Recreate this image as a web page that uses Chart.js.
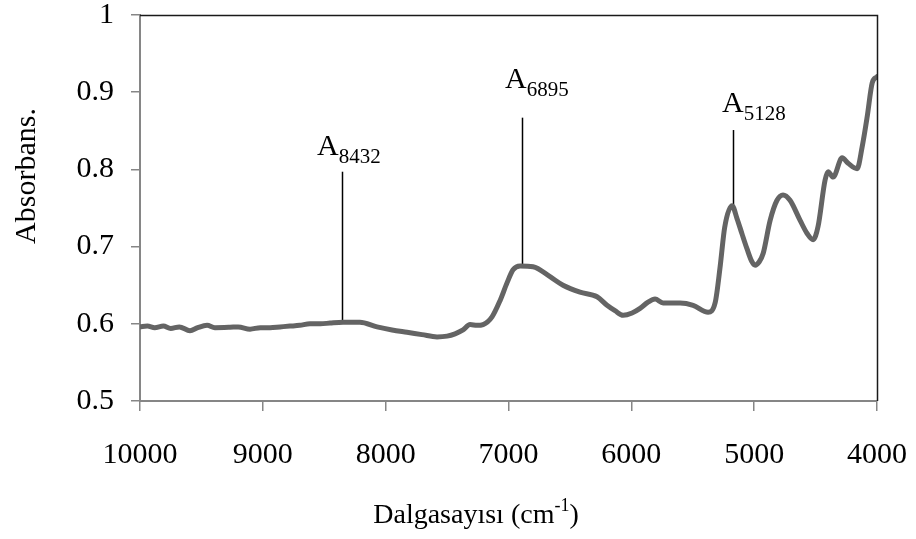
<!DOCTYPE html>
<html><head><meta charset="utf-8">
<script src="https://cdn.jsdelivr.net/npm/chart.js@4/dist/chart.umd.min.js"></script>
<style>html,body{margin:0;padding:0;background:#fff;}#wrap{width:916px;height:539px;}</style>
</head><body><div id="wrap"><canvas id="c" width="916" height="539"></canvas></div>
<script>
// ---- data ----
const wavenumbers = [10000,9940,9880,9810,9750,9680,9593,9530,9454,9390,9267,9200,9104,9020,8941,8860,8779,8700,8616,8530,8453,8347,8210,8070,7948,7826,7704,7582,7500,7435,7370,7313,7256,7207,7134,7069,7012,6963,6906,6800,6662,6556,6418,6279,6198,6133,6067,5994,5929,5864,5807,5742,5603,5497,5375,5318,5277,5240,5180,5139,5100,5058,5020,4992,4960,4927,4870,4814,4765,4708,4626,4569,4520,4480,4423,4398,4357,4284,4235,4162,4121,4080,4039,4000];
const absorbance  = [0.596,0.597,0.595,0.597,0.594,0.596,0.591,0.595,0.598,0.595,0.5955,0.596,0.593,0.595,0.595,0.596,0.597,0.598,0.600,0.600,0.601,0.602,0.602,0.596,0.592,0.589,0.586,0.583,0.584,0.587,0.592,0.599,0.598,0.599,0.609,0.630,0.653,0.670,0.675,0.674,0.661,0.650,0.641,0.635,0.624,0.617,0.611,0.614,0.620,0.628,0.632,0.627,0.627,0.624,0.615,0.627,0.674,0.725,0.753,0.736,0.717,0.697,0.681,0.676,0.680,0.691,0.734,0.760,0.767,0.760,0.734,0.717,0.709,0.726,0.786,0.797,0.790,0.815,0.808,0.801,0.829,0.868,0.912,0.920];
const xTickValues = [10000,9000,8000,7000,6000,5000,4000];
const yTickValues = [0.5,0.6,0.7,0.8,0.9,1];
const xTitle = 'Dalgasayısı (cm';
const xTitleSup = '-1';
const yTitle = 'Absorbans.';
// peak annotations
const peakNames = ['8432','6895','5128'];
const peakLineX = [8355,6890,5175];
const peakLineTop = [0.797,0.867,0.851];
const peakLineBottom = [0.602,0.676,0.754];
const peakLabelX = [8559,7028,5261];
const peakLabelY = [0.819,0.905,0.874];

const FONT = '"Liberation Serif","Times New Roman",serif';

const decor = {
  id:'decor',
  beforeDatasetsDraw(chart){
    const ctx = chart.ctx, xs = chart.scales.x, ys = chart.scales.y;
    ctx.save();
    ctx.strokeStyle = '#000'; ctx.lineWidth = 1.5;
    for (let i=0;i<peakNames.length;i++){
      const px = Math.round(xs.getPixelForValue(peakLineX[i]))+0.5;
      ctx.beginPath();
      ctx.moveTo(px, ys.getPixelForValue(peakLineTop[i]));
      ctx.lineTo(px, ys.getPixelForValue(peakLineBottom[i]));
      ctx.stroke();
    }
    ctx.restore();
  },
  afterDraw(chart){
    const ctx = chart.ctx, a = chart.chartArea, xs = chart.scales.x, ys = chart.scales.y;
    ctx.save();
    ctx.strokeStyle = '#1a1a1a'; ctx.lineWidth = 1.5;
    ctx.beginPath();
    ctx.moveTo(a.left, a.top+0.5); ctx.lineTo(a.right+0.5, a.top+0.5); ctx.lineTo(a.right+0.5, a.bottom);
    ctx.stroke();
    ctx.fillStyle = '#000';
    ctx.textBaseline = 'alphabetic';
    for (let i=0;i<peakNames.length;i++){
      const lx = xs.getPixelForValue(peakLabelX[i]);
      const ly = ys.getPixelForValue(peakLabelY[i]);
      ctx.font = '30px ' + FONT;
      ctx.textAlign = 'left';
      ctx.fillText('A', lx, ly);
      const w = ctx.measureText('A').width;
      ctx.font = '21px ' + FONT;
      ctx.fillText(peakNames[i], lx + w, ly + 8);
    }
    ctx.font = '28px ' + FONT;
    const w1 = ctx.measureText(xTitle).width;
    ctx.font = '18px ' + FONT;
    const w2 = ctx.measureText(xTitleSup).width;
    ctx.font = '28px ' + FONT;
    const w3 = ctx.measureText(')').width;
    const total = w1 + w2 + w3;
    const sx = 476 - total/2;
    const by = 523;
    ctx.textAlign = 'left';
    ctx.fillText(xTitle, sx, by);
    ctx.font = '18px ' + FONT;
    ctx.fillText(xTitleSup, sx + w1, by - 12);
    ctx.font = '28px ' + FONT;
    ctx.fillText(')', sx + w1 + w2, by);
    ctx.translate(35, 176);
    ctx.rotate(-Math.PI/2);
    ctx.font = '30px ' + FONT;
    ctx.textAlign = 'center';
    ctx.fillText(yTitle, 0, 0);
    ctx.restore();
  }
};

const points = wavenumbers.map((w,i)=>({x:w, y:absorbance[i]}));

new Chart(document.getElementById('c'), {
  type:'line',
  data:{ datasets:[{ data:points, borderColor:'#646464', borderWidth:5, pointRadius:0, fill:false,
    tension:0.4, cubicInterpolationMode:'monotone', borderCapStyle:'round', borderJoinStyle:'round' }]},
  options:{
    responsive:false, animation:false, devicePixelRatio:1,
    layout:{ padding:{ top:15, right:39, left:0, bottom:0 } },
    plugins:{ legend:{display:false}, tooltip:{enabled:false}, title:{display:false} },
    scales:{
      x:{ type:'linear', reverse:true, min:4000, max:10000,
        afterBuildTicks(s){ s.ticks = xTickValues.map(v=>({value:v})); },
        afterFit(s){ s.height = 138; s.paddingLeft = 0; s.paddingRight = 0; s.paddingTop = 0; s.paddingBottom = 0; },
        ticks:{ callback:v=>String(v), font:{family:FONT, size:30, lineHeight:1}, color:'#000', padding:29, maxRotation:0, autoSkip:false },
        grid:{ drawOnChartArea:false, drawTicks:true, tickLength:10, color:'#868686', lineWidth:1.5 },
        border:{ display:true, color:'#868686', width:2 }
      },
      y:{ type:'linear', min:0.5, max:1,
        afterBuildTicks(s){ s.ticks = yTickValues.map(v=>({value:v})); },
        afterFit(s){ s.width = 140; s.paddingLeft = 0; s.paddingRight = 0; s.paddingTop = 0; s.paddingBottom = 0; },
        ticks:{ callback:v=>String(+v.toFixed(1)), font:{family:FONT, size:30, lineHeight:1}, color:'#000', padding:17, autoSkip:false },
        grid:{ drawOnChartArea:false, drawTicks:true, tickLength:9, color:'#868686', lineWidth:1.5 },
        border:{ display:true, color:'#868686', width:2 }
      }
    }
  },
  plugins:[decor]
});
</script></body></html>
